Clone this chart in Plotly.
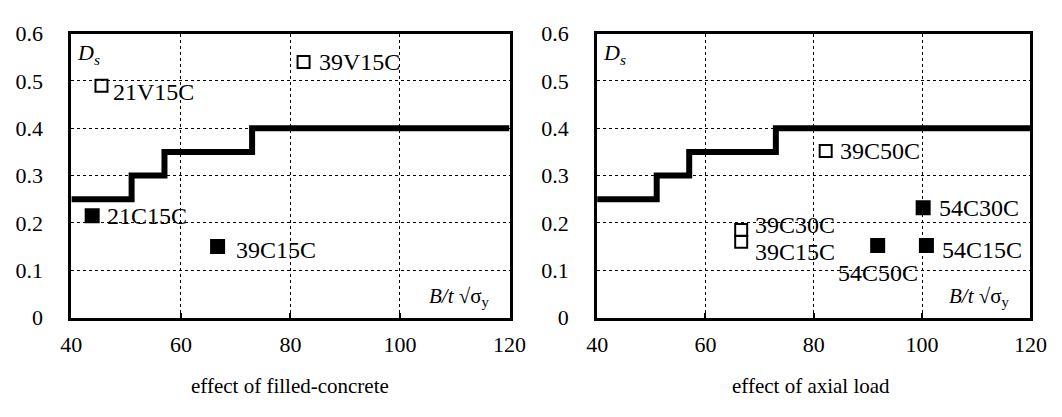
import plotly.graph_objects as go

# ---- data ----
step_x = [40, 51, 57, 73, 120]
step_y = [0.25, 0.30, 0.35, 0.40, 0.40]

# left panel: effect of filled-concrete
left_open_names = ["21V15C", "39V15C"]
left_open_x = [45.5, 82.4]
left_open_y = [0.49, 0.54]
left_fill_names = ["21C15C", "39C15C"]
left_fill_x = [43.8, 66.7]
left_fill_y = [0.215, 0.15]

# right panel: effect of axial load
right_open_names = ["39C50C", "39C30C", "39C15C"]
right_open_x = [82.2, 66.6, 66.6]
right_open_y = [0.352, 0.185, 0.16]
right_fill_names = ["54C30C", "54C15C", "54C50C"]
right_fill_x = [100.2, 100.8, 91.8]
right_fill_y = [0.232, 0.152, 0.152]

x_ticks = [40, 60, 80, 100, 120]
y_ticks = [0, 0.1, 0.2, 0.3, 0.4, 0.5, 0.6]
y_tick_text = ["0", "0.1", "0.2", "0.3", "0.4", "0.5", "0.6"]
captions = ["effect of filled-concrete", "effect of axial load"]

FONT = "Liberation Serif, Times New Roman, serif"
W, H = 1062, 417

fig = go.Figure()

for xa, ya in [("x", "y"), ("x2", "y2")]:
    fig.add_trace(go.Scatter(x=step_x, y=step_y, mode="lines", line_shape="hv",
                             line=dict(color="black", width=6), xaxis=xa, yaxis=ya,
                             showlegend=False, hoverinfo="skip"))

def add_points(xs, ys, filled, xa, ya):
    fig.add_trace(go.Scatter(
        x=xs, y=ys, mode="markers", xaxis=xa, yaxis=ya, showlegend=False,
        marker=dict(symbol="square" if filled else "square-open", size=12 if not filled else 13,
                    color="black", line=dict(color="black", width=2))))

add_points(left_open_x, left_open_y, False, "x", "y")
add_points(left_fill_x, left_fill_y, True, "x", "y")
add_points(right_open_x, right_open_y, False, "x2", "y2")
add_points(right_fill_x, right_fill_y, True, "x2", "y2")

annotations = []
label_shift = {
    "21V15C": (10, -6, "left"), "39V15C": (13, 0, "left"),
    "21C15C": (13, 0, "left"), "39C15C_L": (16, -3, "left"),
    "39C50C": (12, 0, "left"), "39C30C": (12, 5, "left"), "39C15C_R": (12, -10, "left"),
    "54C30C": (14, 0, "left"), "54C15C": (14, -4, "left"), "54C50C": (0, -27, "center"),
}

def add_labels(names, xs, ys, xref, yref, suffix=""):
    for n, x, y in zip(names, xs, ys):
        key = n + suffix if (n + suffix) in label_shift else n
        dx, dy, anc = label_shift[key]
        annotations.append(dict(x=x, y=y, xref=xref, yref=yref, text=n, showarrow=False,
                                xanchor=anc, yanchor="middle", xshift=dx, yshift=dy,
                                font=dict(family=FONT, size=24, color="black")))

add_labels(left_open_names, left_open_x, left_open_y, "x", "y")
add_labels(left_fill_names, left_fill_x, left_fill_y, "x", "y", "_L")
add_labels(right_open_names, right_open_x, right_open_y, "x2", "y2", "_R")
add_labels(right_fill_names, right_fill_x, right_fill_y, "x2", "y2")

for xref, yref in [("x", "y"), ("x2", "y2")]:
    annotations.append(dict(x=40, y=0.6, xref=xref, yref=yref, text="<i>D<sub>s</sub></i>",
                            showarrow=False, xanchor="left", yanchor="top", xshift=4, yshift=-4,
                            font=dict(family=FONT, size=22, color="black")))
    annotations.append(dict(x=120, y=0, xref=xref, yref=yref,
                            text="<i>B/t</i> √σ<sub>y</sub>",
                            showarrow=False, xanchor="right", yanchor="bottom", xshift=-18, yshift=6,
                            font=dict(family=FONT, size=21, color="black")))

annotations.append(dict(x=287 / W, y=1 - 398 / H, xref="paper", yref="paper", text=captions[0],
                        showarrow=False, xanchor="center", yanchor="middle",
                        font=dict(family=FONT, size=21, color="black")))
annotations.append(dict(x=822 / W, y=1 - 398 / H, xref="paper", yref="paper", text=captions[1],
                        showarrow=False, xanchor="center", yanchor="middle",
                        font=dict(family=FONT, size=21, color="black")))

xax = dict(range=[40, 120], tickvals=x_ticks, showgrid=True, gridcolor="black", gridwidth=1.2,
           griddash="dot", zeroline=False, showline=True, linecolor="black", linewidth=3,
           mirror=True, ticks="inside", ticklen=5, tickwidth=2, tickcolor="black",
           ticklabelstandoff=5,
           tickfont=dict(family=FONT, size=22, color="black"))
yax = dict(range=[0, 0.6], tickvals=y_ticks, ticktext=y_tick_text, showgrid=True,
           gridcolor="black", gridwidth=1.2, griddash="dot", zeroline=False, showline=True,
           linecolor="black", linewidth=3, mirror=True, ticks="", ticklabelstandoff=21,
           tickfont=dict(family=FONT, size=22, color="black"))

fig.update_layout(
    width=W, height=H, margin=dict(l=0, r=0, t=0, b=0),
    font=dict(family=FONT, color="black"),
    paper_bgcolor="white", plot_bgcolor="white",
    xaxis=dict(xax, domain=[62 / W, 512 / W], anchor="y"),
    yaxis=dict(yax, domain=[1 - 325 / H, 1 - 23 / H], anchor="x"),
    xaxis2=dict(xax, domain=[602 / W, 1047 / W], anchor="y2"),
    yaxis2=dict(yax, domain=[1 - 325 / H, 1 - 23 / H], anchor="x2"),
    annotations=annotations,
)

fig.write_html("out.html")
